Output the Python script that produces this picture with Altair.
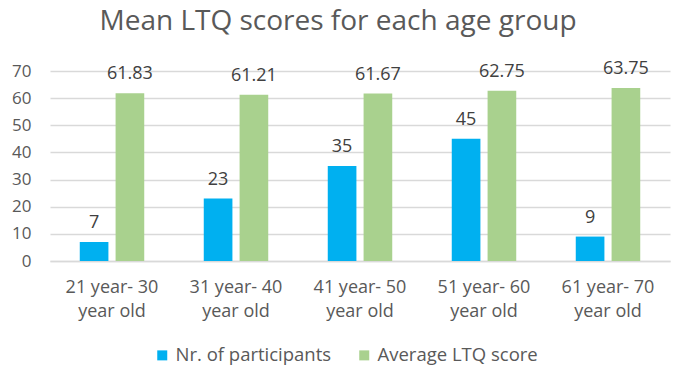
import altair as alt
import pandas as pd

groups = ["21 year- 30|year old", "31 year- 40|year old", "41 year- 50|year old",
          "51 year- 60|year old", "61 year- 70|year old"]
series = ["Nr. of participants", "Average LTQ score"]
participants = [7, 23, 35, 45, 9]
ltq = [61.83, 61.21, 61.67, 62.75, 63.75]
colors = ["#00B0F0", "#A9D18E"]

rows = []
for g, p, s in zip(groups, participants, ltq):
    rows.append({"group": g, "series": series[0], "value": p, "label": f"{p}"})
    rows.append({"group": g, "series": series[1], "value": s, "label": f"{s:.2f}"})
df = pd.DataFrame(rows)

FONT = "Open Sans"

x = alt.X("group:N", sort=groups, title=None,
          scale=alt.Scale(paddingInner=0.48, paddingOuter=0.24),
          axis=alt.Axis(labelExpr="split(datum.label, '|')", labelAngle=0,
                        labelFontSize=18, labelColor="#595959", labelFont=FONT,
                        labelPadding=17, labelLineHeight=24, ticks=False,
                        domainColor="#D9D9D9", domainWidth=1.5))
xo = alt.XOffset("series:N", sort=series, scale=alt.Scale(paddingInner=0.2))
y = alt.Y("value:Q", title=None,
          scale=alt.Scale(domain=[0, 70], nice=False),
          axis=alt.Axis(values=[0, 10, 20, 30, 40, 50, 60, 70], labelFontSize=17,
                        labelColor="#595959", labelFont=FONT, labelPadding=19,
                        ticks=False, domain=False, gridColor="#D9D9D9", gridWidth=1.5))

base = alt.Chart(df).encode(x=x, xOffset=xo, y=y)

bars = base.mark_bar().encode(
    color=alt.Color("series:N", sort=series,
                    scale=alt.Scale(domain=series, range=colors),
                    legend=alt.Legend(title=None, orient="none", direction="horizontal",
                                      legendX=103, legendY=275, symbolType="square",
                                      symbolSize=100, symbolStrokeWidth=0,
                                      labelFontSize=18.5, labelColor="#595959",
                                      labelFont=FONT, labelLimit=400, columnPadding=23))
)
labels = base.mark_text(baseline="alphabetic", dy=-14, fontSize=18,
                        color="#404040", font=FONT).encode(text="label:N")

chart = alt.layer(bars, labels).properties(
    width=620, height=190,
    title=alt.TitleParams("Mean LTQ scores for each age group", fontSize=28,
                          font=FONT, fontWeight="normal", color="#595959",
                          anchor="middle", offset=24, dx=-22),
    autosize=alt.AutoSizeParams(type="none"),
    padding={"left": 50, "top": 71, "right": 14, "bottom": 116},
).configure_view(stroke=None)

chart.save("out.html", embed_options={"renderer": "svg", "actions": False})
